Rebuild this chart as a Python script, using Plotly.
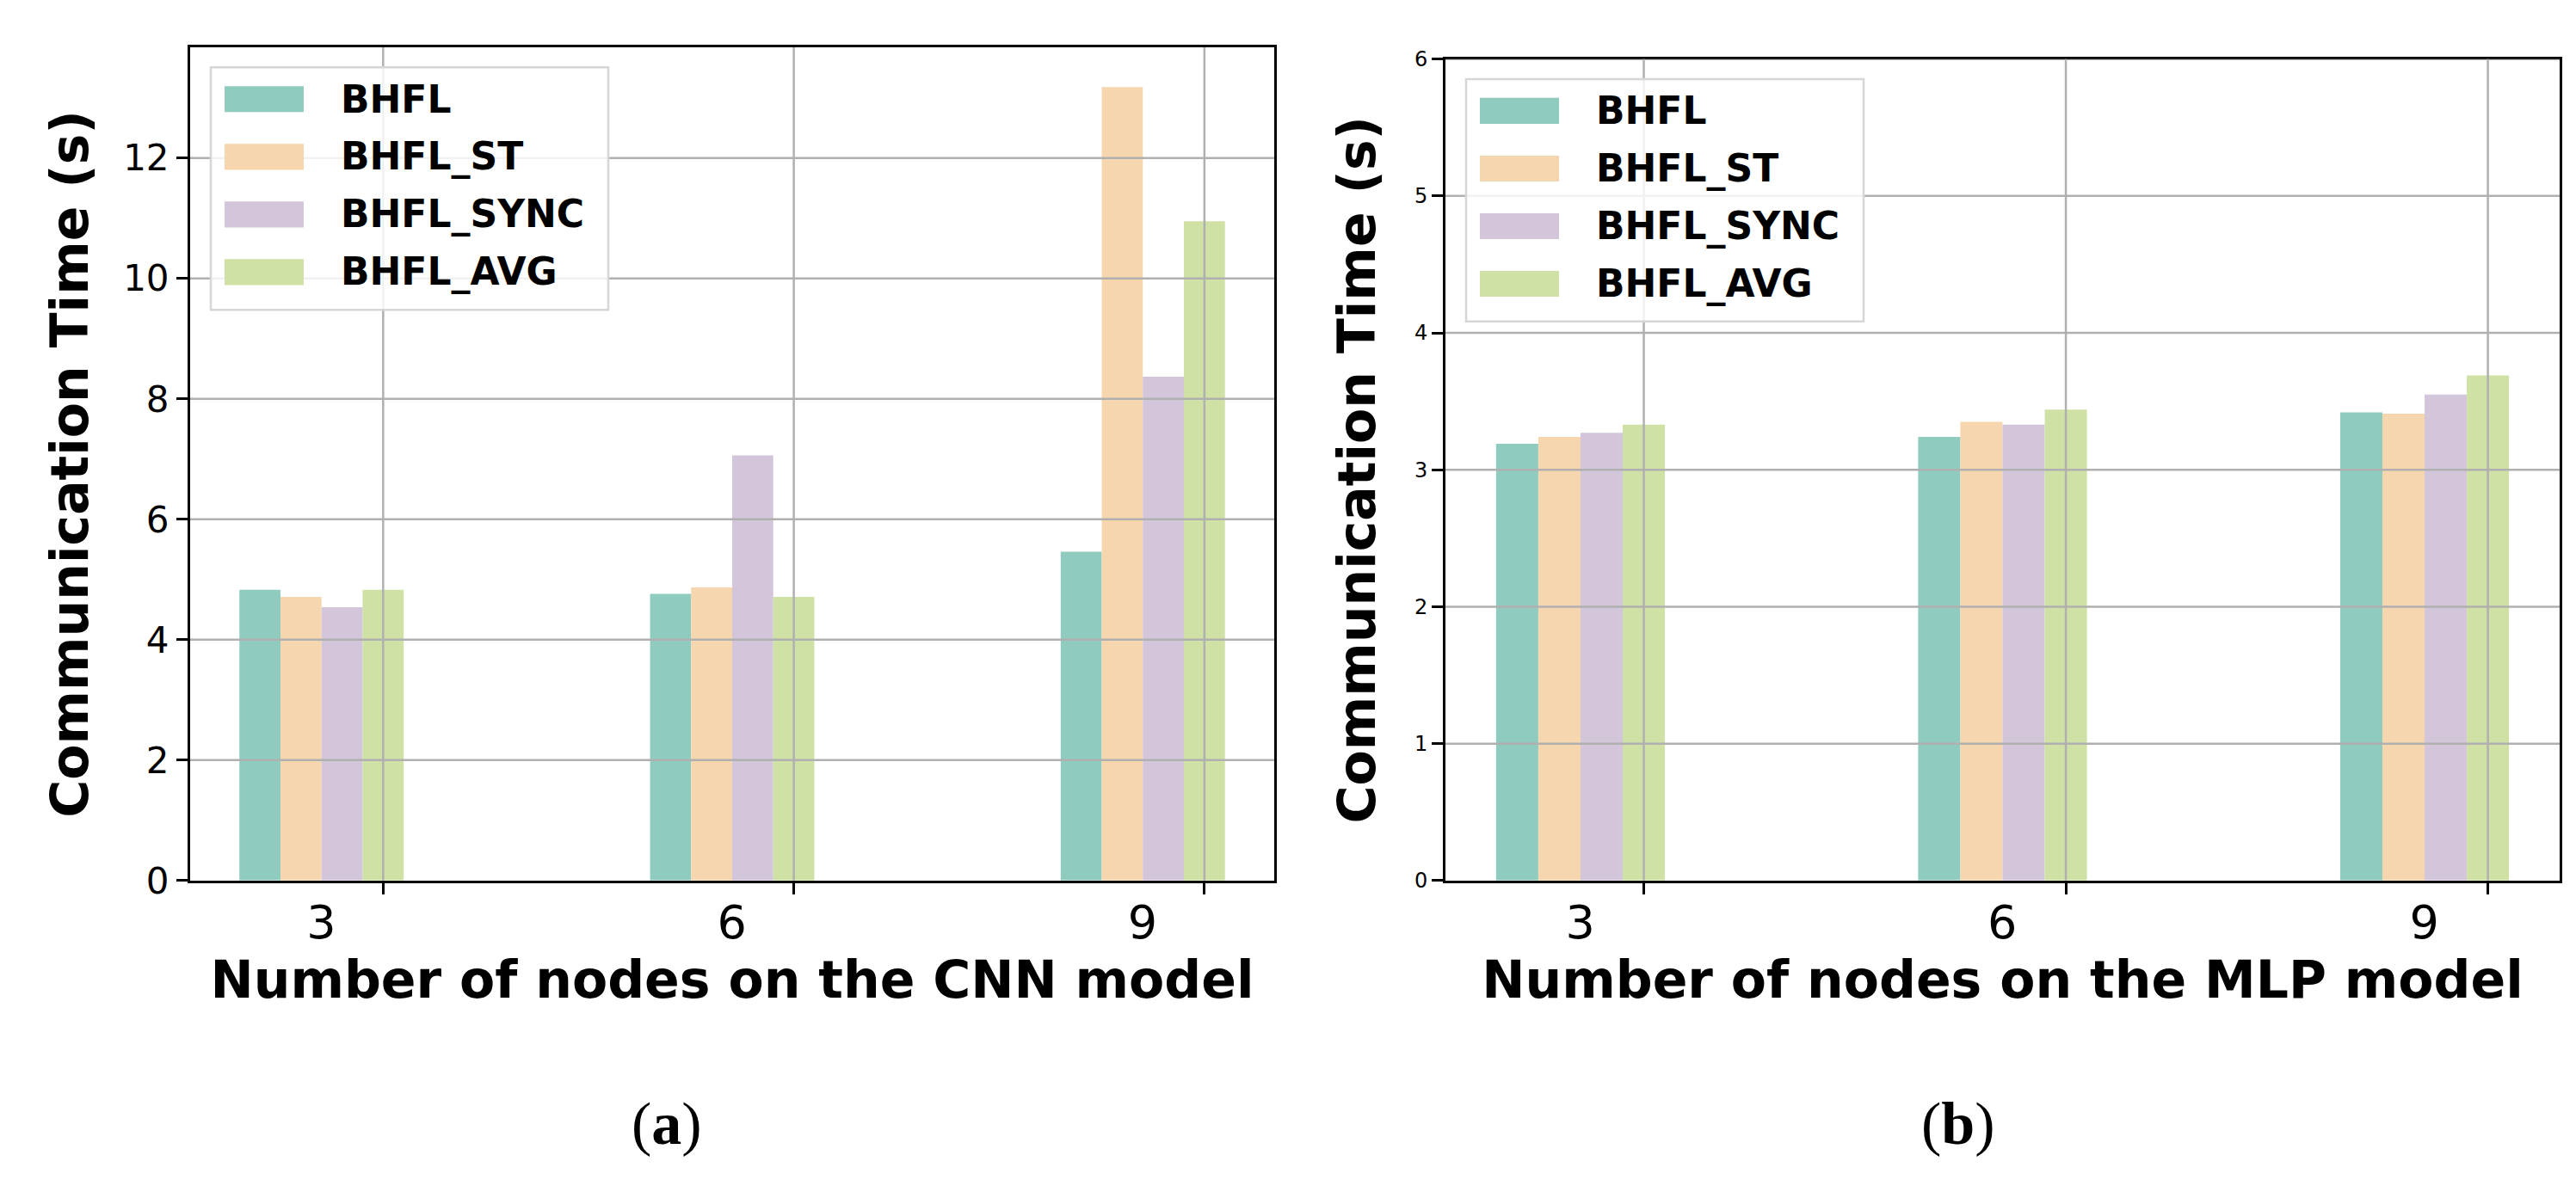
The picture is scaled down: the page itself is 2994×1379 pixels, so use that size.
import plotly.graph_objects as go

# ---------------- data ----------------
nodes = [3, 6, 9]
x_tick_labels = ["3", "6", "9"]
series_names = ["BHFL", "BHFL_ST", "BHFL_SYNC", "BHFL_AVG"]

cnn_bhfl = [4.83, 4.76, 5.46]
cnn_st = [4.71, 4.87, 13.18]
cnn_sync = [4.54, 7.06, 8.37]
cnn_avg = [4.83, 4.71, 10.95]

mlp_bhfl = [3.19, 3.24, 3.42]
mlp_st = [3.24, 3.35, 3.41]
mlp_sync = [3.27, 3.33, 3.55]
mlp_avg = [3.33, 3.44, 3.69]

cnn_yticks = [0, 2, 4, 6, 8, 10, 12]
mlp_yticks = [0, 1, 2, 3, 4, 5, 6]

cnn_xtitle = "Number of nodes on the CNN model"
mlp_xtitle = "Number of nodes on the MLP model"
ytitle = "Communication Time (s)"
panel_labels = ["a", "b"]

# ---------------- style ----------------
colors = ["#8fccbf", "#f6d6ae", "#d3c6db", "#d0e1a6"]
W, H = 2994, 1379
bar_w = 0.3
first_off = -1.05
grid_col = "#b0b0b0"
FONT = "DejaVu Sans"

dom_a_x = [213 / W, 1473 / W]
dom_a_y = [1 - 1031 / H, 1 - 34 / H]
dom_b_x = [1672 / W, 2967 / W]
dom_b_y = [1 - 1031 / H, 1 - 48 / H]
panel_label_x = [767 / W, 2268 / W]
panel_label_y = 1 - 1322 / H

lo = min(nodes) + first_off
hi = max(nodes) + first_off + bar_w * len(series_names)
pad = 0.05 * (hi - lo)
xr = [lo - pad, hi + pad]
group_center_off = first_off + bar_w * len(series_names) / 2

cnn = [cnn_bhfl, cnn_st, cnn_sync, cnn_avg]
mlp = [mlp_bhfl, mlp_st, mlp_sync, mlp_avg]

fig = go.Figure()
for i, name in enumerate(series_names):
    fig.add_trace(go.Bar(x=nodes, y=cnn[i], name=name, width=bar_w,
                         offset=first_off + bar_w * i,
                         marker=dict(color=colors[i], line=dict(width=0)),
                         xaxis="x", yaxis="y", showlegend=False))
for i, name in enumerate(series_names):
    fig.add_trace(go.Bar(x=nodes, y=mlp[i], name=name, width=bar_w,
                         offset=first_off + bar_w * i,
                         marker=dict(color=colors[i], line=dict(width=0)),
                         xaxis="x2", yaxis="y2", showlegend=False))

cnn_max = max(max(s) for s in cnn)
yr_a = [0, cnn_max * 1.05]
yr_b = [0, mlp_yticks[-1]]


def px_per_unit(dom):
    return (dom[1] - dom[0]) * W / (xr[1] - xr[0])


def xaxis(dom, anchor, title):
    return dict(domain=dom, anchor=anchor, range=xr, tickmode="array",
                tickvals=nodes, ticktext=x_tick_labels, showgrid=False,
                zeroline=False, showline=True, mirror=True, linecolor="black",
                linewidth=3, ticks="outside", ticklen=13, tickwidth=2.5,
                tickcolor="black",
                ticklabelshift=int(round(group_center_off * px_per_unit(dom))),
                ticklabelstandoff=-14,
                tickfont=dict(family=FONT, size=54, color="black"),
                title=dict(text=title, standoff=12,
                           font=dict(family=FONT, size=60, color="black",
                                     weight="bold")))


def yaxis(dom, anchor, rng, tv, fs, standoff):
    return dict(domain=dom, anchor=anchor, range=rng, tickmode="array",
                tickvals=tv, showgrid=False, zeroline=False, showline=True,
                mirror=True, linecolor="black", linewidth=3, ticks="outside",
                ticklen=13, tickwidth=2.5, tickcolor="black",
                tickfont=dict(family=FONT, size=fs, color="black"),
                title=dict(text=ytitle, standoff=standoff,
                           font=dict(family=FONT, size=60, color="black",
                                     weight="bold")))


shapes = []
annotations = []
for xa, ya, tv in [("x", "y", cnn_yticks), ("x2", "y2", mlp_yticks)]:
    for v in tv[1:]:
        shapes.append(dict(type="line", xref=xa + " domain", yref=ya,
                           x0=0, x1=1, y0=v, y1=v, layer="above",
                           line=dict(color=grid_col, width=2.5)))
    for v in nodes:
        shapes.append(dict(type="line", xref=xa, yref=ya + " domain",
                           x0=v, x1=v, y0=0, y1=1, layer="above",
                           line=dict(color=grid_col, width=2.5)))

# legend box drawn in the top-left corner of each panel
LEG_OFF, LEG_W, LEG_H = 24, 462, 290
SW_X, SW_W, SW_H = 16, 92, 31
TXT_X, ROW0, ROW_GAP = 149, 38, 69
for dx, dy in [(dom_a_x, dom_a_y), (dom_b_x, dom_b_y)]:
    left = dx[0] * W + LEG_OFF
    top = (1 - dy[1]) * H + LEG_OFF
    shapes.append(dict(type="rect", xref="paper", yref="paper",
                       x0=left / W, x1=(left + LEG_W) / W,
                       y0=1 - (top + LEG_H) / H, y1=1 - top / H,
                       layer="above", fillcolor="rgba(255,255,255,0.82)",
                       line=dict(color="#d6d6d6", width=2.5)))
    for i, name in enumerate(series_names):
        cy = top + ROW0 + ROW_GAP * i
        shapes.append(dict(type="rect", xref="paper", yref="paper",
                           x0=(left + SW_X) / W, x1=(left + SW_X + SW_W) / W,
                           y0=1 - (cy + SW_H / 2) / H, y1=1 - (cy - SW_H / 2) / H,
                           layer="above", fillcolor=colors[i],
                           line=dict(width=0)))
        annotations.append(dict(text=name, xref="paper", yref="paper",
                                x=(left + TXT_X) / W, y=1 - cy / H,
                                xanchor="left", yanchor="middle",
                                showarrow=False,
                                font=dict(family=FONT, size=44, color="black",
                                          weight="bold")))

for lab, px in zip(panel_labels, panel_label_x):
    annotations.append(dict(text="(<b>" + lab + "</b>)", xref="paper",
                            yref="paper", x=px, y=panel_label_y,
                            xanchor="center", yanchor="middle",
                            showarrow=False,
                            font=dict(family="Liberation Serif", size=70,
                                      color="black")))

fig.update_layout(
    width=W, height=H, margin=dict(l=0, r=0, t=0, b=0),
    paper_bgcolor="white", plot_bgcolor="white", barmode="overlay",
    xaxis=xaxis(dom_a_x, "y", cnn_xtitle),
    yaxis=yaxis(dom_a_y, "x", yr_a, cnn_yticks, 42, 22),
    xaxis2=xaxis(dom_b_x, "y2", mlp_xtitle),
    yaxis2=yaxis(dom_b_y, "x2", yr_b, mlp_yticks, 24, 26),
    shapes=shapes, annotations=annotations, showlegend=False,
)

fig.write_html("out.html")
